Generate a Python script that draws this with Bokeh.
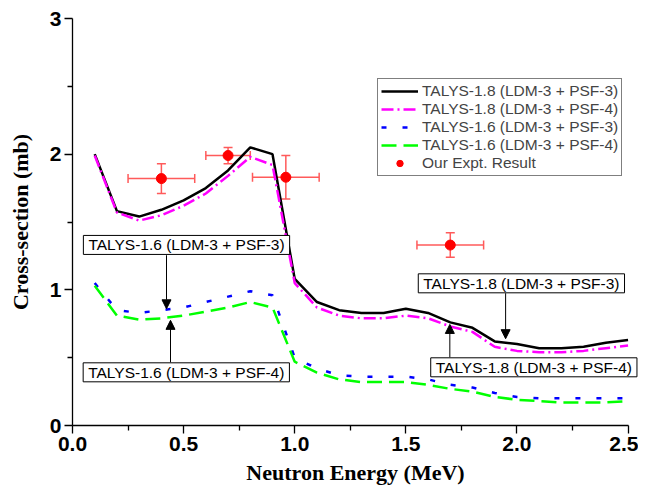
from bokeh.plotting import figure
from bokeh.models import (ColumnDataSource, Whisker, TeeHead, Label, Arrow, NormalHead,
                          FixedTicker, PrintfTickFormatter, Range1d)
from bokeh.embed import file_html
from bokeh.resources import INLINE

# ---- data ----
energy = [0.1, 0.2, 0.3, 0.4, 0.5, 0.6, 0.7, 0.8, 0.9, 1.0, 1.1, 1.2, 1.3,
          1.4, 1.5, 1.6, 1.7, 1.8, 1.9, 2.0, 2.1, 2.2, 2.3, 2.4, 2.5]
talys18_psf3 = [2.00, 1.58, 1.54, 1.59, 1.66, 1.75, 1.88, 2.05, 2.00, 1.08, 0.91, 0.85, 0.83,
                0.83, 0.86, 0.83, 0.76, 0.72, 0.62, 0.60, 0.57, 0.57, 0.58, 0.61, 0.63]
talys18_psf4 = [1.99, 1.57, 1.51, 1.55, 1.62, 1.71, 1.84, 1.98, 1.92, 1.05, 0.87, 0.81, 0.79,
                0.79, 0.81, 0.79, 0.73, 0.69, 0.58, 0.55, 0.54, 0.54, 0.55, 0.57, 0.59]
talys16_psf3 = [1.05, 0.85, 0.83, 0.85, 0.87, 0.91, 0.95, 0.99, 0.96, 0.50, 0.42, 0.37, 0.36,
                0.36, 0.36, 0.34, 0.30, 0.28, 0.24, 0.21, 0.20, 0.20, 0.20, 0.20, 0.20]
talys16_psf4 = [1.03, 0.81, 0.78, 0.79, 0.81, 0.84, 0.87, 0.91, 0.87, 0.47, 0.39, 0.34, 0.32,
                0.32, 0.32, 0.30, 0.27, 0.25, 0.21, 0.19, 0.18, 0.17, 0.17, 0.17, 0.18]

expt_e = [0.40, 0.70, 0.96, 1.70]
expt_xs = [1.82, 1.99, 1.83, 1.33]
expt_de = [0.15, 0.10, 0.15, 0.15]
expt_dxs = [0.11, 0.06, 0.16, 0.09]

x_ticks = [0.0, 0.5, 1.0, 1.5, 2.0, 2.5]
y_ticks = [0, 1, 2, 3]

SANS = "Liberation Sans"
SERIF = "Liberation Serif"

# frame extends a little past 2.5 so the right-hand note box is not clipped;
# the axis itself is bounded to 0..2.5
p = figure(width=638, height=487, x_range=Range1d(0, 2.547), y_range=(0, 3),
           output_backend="svg", toolbar_location=None,
           min_border_left=72, min_border_right=0, min_border_top=18, min_border_bottom=61)
p.outline_line_color = None
p.grid.visible = False
p.background_fill_color = "white"

for ax in (p.xaxis[0], p.yaxis[0]):
    ax.axis_line_width = 1.3
    ax.major_tick_line_width = 1.3
    ax.minor_tick_line_width = 1.3
    ax.major_tick_in = 0
    ax.major_tick_out = 8
    ax.minor_tick_in = 0
    ax.minor_tick_out = 5
    ax.major_label_text_font = SANS
    ax.major_label_text_font_style = "bold"
    ax.major_label_text_font_size = "21px"
    ax.major_label_text_color = "black"
    ax.major_label_standoff = 3
    ax.axis_label_text_font = SERIF
    ax.axis_label_text_font_style = "bold"
    ax.axis_label_text_font_size = "22px"
    ax.axis_label_text_color = "black"

p.xaxis.bounds = (0, 2.5)
p.xaxis.ticker = FixedTicker(ticks=x_ticks, minor_ticks=[0.25, 0.75, 1.25, 1.75, 2.25])
p.yaxis.ticker = FixedTicker(ticks=y_ticks, minor_ticks=[0.5, 1.5, 2.5])
p.xaxis.formatter = PrintfTickFormatter(format="%.1f")
p.xaxis.axis_label = "Neutron Energy (MeV)"
p.yaxis.axis_label = "Cross-section (mb)"
p.xaxis.axis_label_standoff = 6
p.yaxis.axis_label_standoff = 14

# curves
p.line(energy, talys18_psf3, line_color="black", line_width=2.5,
       legend_label="TALYS-1.8 (LDM-3 + PSF-3)")
p.line(energy, talys18_psf4, line_color="#FF00FF", line_width=2.5, line_dash="12 4 2 4",
       legend_label="TALYS-1.8 (LDM-3 + PSF-4)")
p.line(energy, talys16_psf3, line_color="#0000FF", line_width=2.5, line_dash="5 16",
       legend_label="TALYS-1.6 (LDM-3 + PSF-3)")
p.line(energy, talys16_psf4, line_color="#00FF00", line_width=2.5, line_dash="15 7",
       legend_label="TALYS-1.6 (LDM-3 + PSF-4)")

# experimental points with error bars
src = ColumnDataSource(dict(
    x=expt_e, y=expt_xs,
    xl=[a - b for a, b in zip(expt_e, expt_de)], xu=[a + b for a, b in zip(expt_e, expt_de)],
    yl=[a - b for a, b in zip(expt_xs, expt_dxs)], yu=[a + b for a, b in zip(expt_xs, expt_dxs)],
))
ebc = "#FF5A5A"
p.add_layout(Whisker(source=src, base="x", lower="yl", upper="yu", dimension="height",
                     line_color=ebc, line_width=1.5,
                     upper_head=TeeHead(size=9, line_color=ebc, line_width=1.5),
                     lower_head=TeeHead(size=9, line_color=ebc, line_width=1.5)))
p.add_layout(Whisker(source=src, base="y", lower="xl", upper="xu", dimension="width",
                     line_color=ebc, line_width=1.5,
                     upper_head=TeeHead(size=9, line_color=ebc, line_width=1.5),
                     lower_head=TeeHead(size=9, line_color=ebc, line_width=1.5)))
p.scatter("x", "y", source=src, size=10, color="#FF0000", legend_label="Our Expt. Result")

# annotation boxes
def box(x, y, text):
    p.add_layout(Label(x=x, y=y, text=text, text_font=SANS, text_font_size="15.5px",
                       text_align="left", text_baseline="middle", text_color="black",
                       border_line_color="black", border_line_width=1,
                       background_fill_color="white",
                       padding=dict(top=1, right=5, bottom=1, left=5)))

def arrow(x, y0, y1):
    p.add_layout(Arrow(end=NormalHead(size=9, fill_color="black", line_color="black"),
                       x_start=x, y_start=y0, x_end=x, y_end=y1,
                       line_color="black", line_width=1))

box(0.049, 1.331, "TALYS-1.6 (LDM-3 + PSF-3)")
box(0.048, 0.392, "TALYS-1.6 (LDM-3 + PSF-4)")
box(1.556, 1.048, "TALYS-1.8 (LDM-3 + PSF-3)")
box(1.612, 0.429, "TALYS-1.8 (LDM-3 + PSF-4)")
arrow(0.423, 1.255, 0.86)
arrow(0.441, 0.466, 0.775)
arrow(1.949, 0.975, 0.64)
arrow(1.698, 0.503, 0.745)

lg = p.legend[0]
lg.location = (305, 249)
lg.label_text_font = SANS
lg.label_text_font_size = "15.5px"
lg.glyph_width = 37
lg.glyph_height = 16
lg.label_height = 16
lg.label_standoff = 4
lg.spacing = 0
lg.padding = 3
lg.margin = 0
lg.border_line_color = "black"
lg.border_line_width = 1
lg.background_fill_alpha = 1.0

open("out.html", "w").write(file_html(p, INLINE))
